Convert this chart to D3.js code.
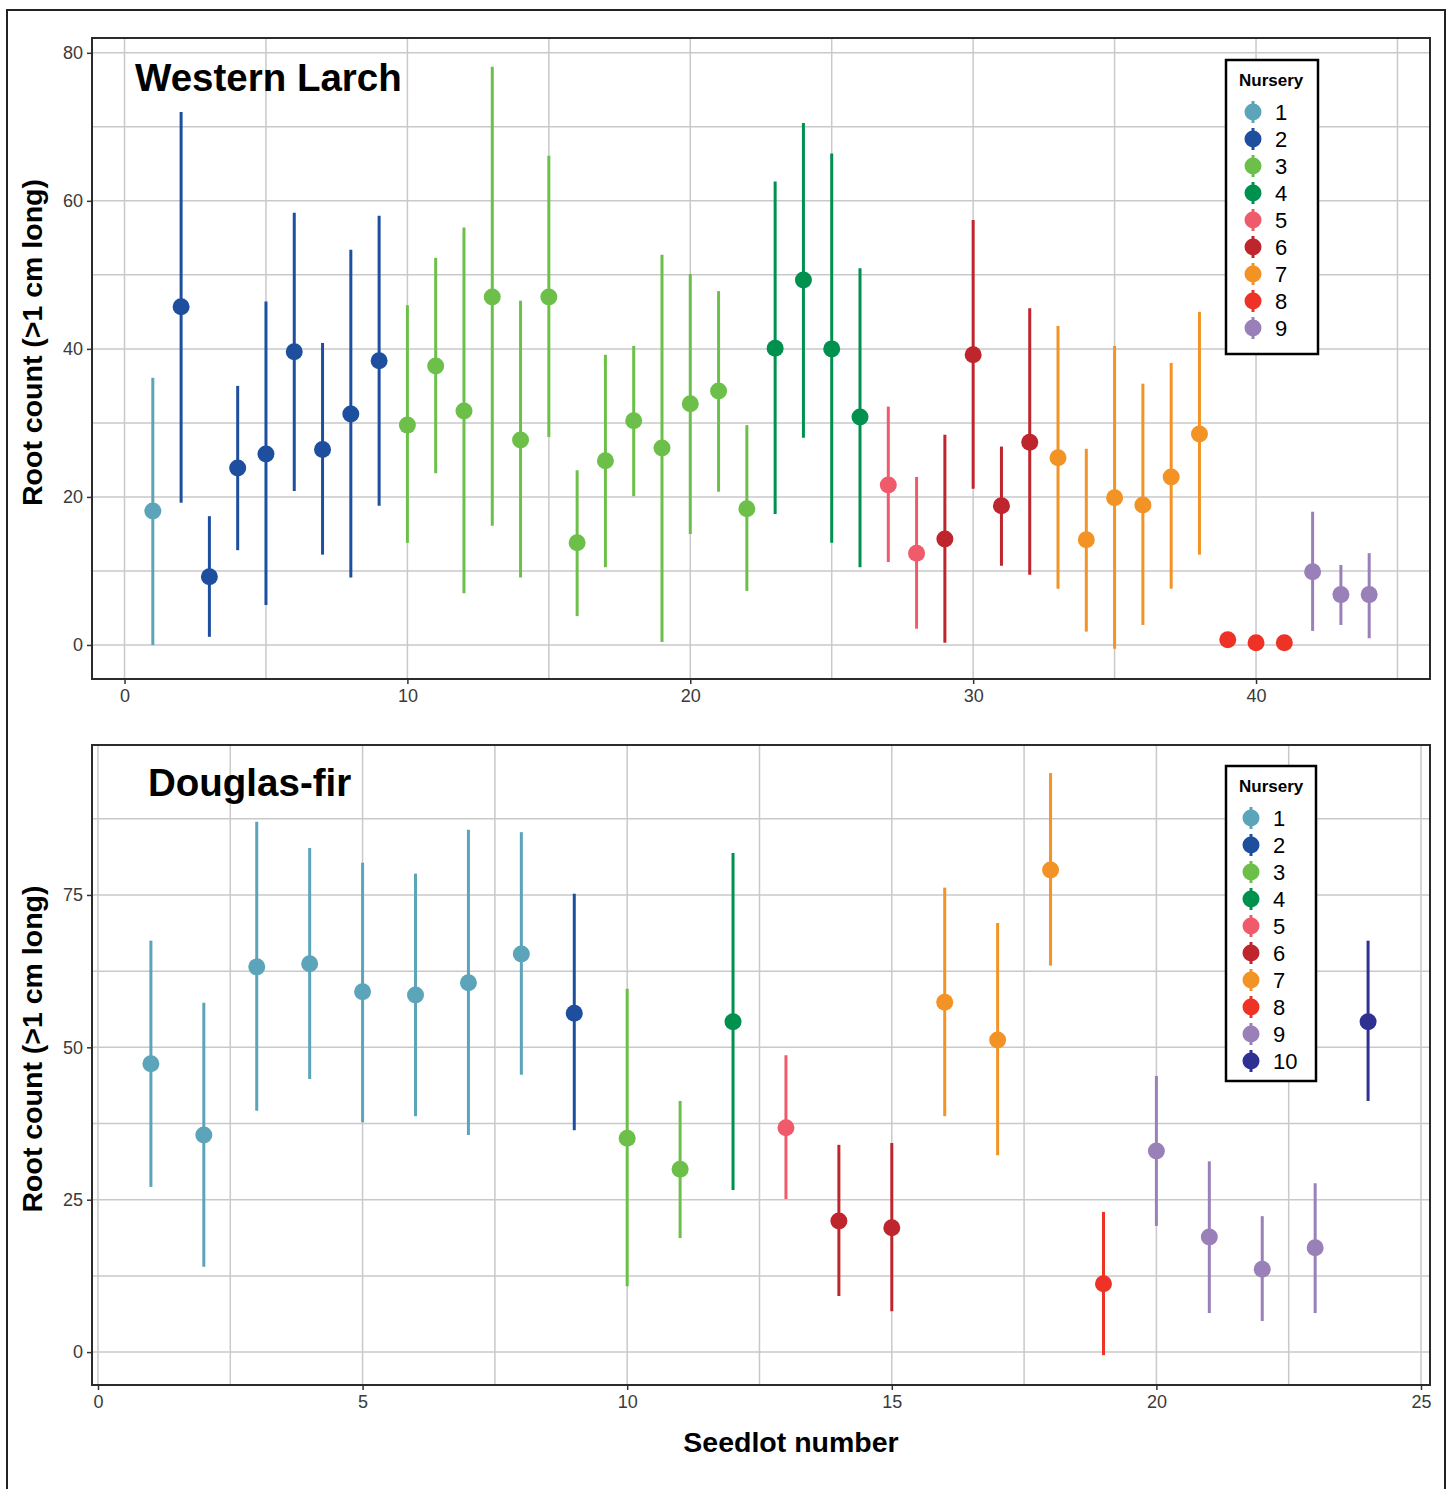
<!DOCTYPE html>
<html>
<head>
<meta charset="utf-8">
<script src="https://cdn.jsdelivr.net/npm/d3@7"></script>
<style>
  body { margin: 0; background: #fff; }
  svg { display: block; font-family: "Liberation Sans", Arial, sans-serif; }
</style>
</head>
<body>
<div id="chart"></div>
<script>
// Nursery colours (1..10)
const nurseryIds = [1, 2, 3, 4, 5, 6, 7, 8, 9, 10];
const nurseryColors = ['#5BA4B9', '#1D4F9E', '#6CC04A', '#00914F', '#EF5B6B',
                       '#BF252D', '#F39325', '#EE3226', '#9A80B8', '#2E3192'];

// Western Larch: seedlot, nursery, mean, lower, upper
const larchSeedlot = d3.range(1, 45);
const larchNursery = [1, 2, 2, 2, 2, 2, 2, 2, 2,
                      3, 3, 3, 3, 3, 3, 3, 3, 3, 3, 3, 3, 3,
                      4, 4, 4, 4, 5, 5, 6, 6, 6, 6,
                      7, 7, 7, 7, 7, 7, 8, 8, 8, 9, 9, 9];
const larchMean = [18.1, 45.7, 9.2, 23.9, 25.8, 39.6, 26.4, 31.2, 38.4,
                   29.7, 37.7, 31.6, 47.0, 27.7, 47.0, 13.8, 24.9, 30.3, 26.6, 32.6, 34.3, 18.4,
                   40.1, 49.3, 40.0, 30.8, 21.6, 12.4, 14.3, 39.2, 18.8, 27.4,
                   25.3, 14.2, 19.9, 18.9, 22.7, 28.5, 0.7, 0.3, 0.3, 9.9, 6.8, 6.8];
const larchLower = [0.0, 19.2, 1.1, 12.8, 5.4, 20.8, 12.2, 9.1, 18.8,
                    13.8, 23.2, 7.0, 16.1, 9.1, 28.1, 3.9, 10.5, 20.1, 0.4, 15.0, 20.7, 7.3,
                    17.7, 28.0, 13.8, 10.5, 11.2, 2.2, 0.3, 21.1, 10.7, 9.5,
                    7.6, 1.8, -0.5, 2.7, 7.6, 12.2, 0.7, 0.3, 0.3, 1.9, 2.7, 0.9];
const larchUpper = [36.1, 72.0, 17.4, 35.0, 46.4, 58.4, 40.8, 53.4, 58.0,
                    45.9, 52.3, 56.4, 78.1, 46.5, 66.1, 23.6, 39.2, 40.4, 52.7, 50.1, 47.8, 29.7,
                    62.6, 70.5, 66.4, 50.9, 32.2, 22.7, 28.4, 57.4, 26.8, 45.5,
                    43.1, 26.5, 40.4, 35.3, 38.1, 45.0, 0.7, 0.3, 0.3, 18.0, 10.8, 12.4];

// Douglas-fir
const firSeedlot = d3.range(1, 25);
const firNursery = [1, 1, 1, 1, 1, 1, 1, 1, 2, 3, 3, 4, 5, 6, 6, 7, 7, 7, 8, 9, 9, 9, 9, 10];
const firMean = [47.3, 35.6, 63.2, 63.7, 59.1, 58.6, 60.6, 65.3, 55.6, 35.1, 30.0, 54.2,
                 36.8, 21.5, 20.4, 57.4, 51.2, 79.1, 11.2, 33.0, 18.9, 13.6, 17.1, 54.2];
const firLower = [27.1, 14.0, 39.6, 44.8, 37.7, 38.7, 35.6, 45.5, 36.4, 10.8, 18.7, 26.6,
                  25.1, 9.2, 6.7, 38.7, 32.3, 63.4, -0.5, 20.7, 6.4, 5.1, 6.4, 41.2];
const firUpper = [67.5, 57.3, 87.0, 82.7, 80.3, 78.5, 85.7, 85.3, 75.2, 59.6, 41.2, 81.9,
                  48.7, 34.0, 34.3, 76.2, 70.4, 95.0, 23.0, 45.3, 31.3, 22.3, 27.7, 67.5];

const larchXTicks = [0, 10, 20, 30, 40];
const larchXGrid = d3.range(0, 50, 5);
const larchYTicks = [0, 20, 40, 60, 80];
const larchYGrid = d3.range(0, 90, 10);
const firXTicks = [0, 5, 10, 15, 20, 25];
const firXGrid = d3.range(0, 27.5, 2.5);
const firYTicks = [0, 25, 50, 75];
const firYGrid = d3.range(0, 100, 12.5);

const W = 1451, H = 1489;
const svg = d3.select('#chart').append('svg').attr('width', W).attr('height', H);

// outer frame
svg.append('rect')
  .attr('x', 7).attr('y', 10).attr('width', 1438).attr('height', H)
  .attr('fill', 'none').attr('stroke', '#222').attr('stroke-width', 2);

const color = d3.scaleOrdinal().domain(nurseryIds).range(nurseryColors);

function buildRows(seedlot, nursery, mean, lower, upper) {
  return seedlot.map((s, i) => ({
    seedlot: s, nursery: nursery[i], mean: mean[i], lower: lower[i], upper: upper[i]
  }));
}

function drawPanel(cfg) {
  const { left, right, top, bottom } = cfg.box;
  const x = d3.scaleLinear().domain(cfg.xDomain).range([left, right]);
  const y = d3.scaleLinear().domain(cfg.yDomain).range([bottom, top]);
  const g = svg.append('g');

  // grid
  g.append('g').selectAll('line').data(cfg.xGrid).enter().append('line')
    .attr('x1', d => x(d)).attr('x2', d => x(d))
    .attr('y1', top).attr('y2', bottom)
    .attr('stroke', '#C9C9C9').attr('stroke-width', 1.5);
  g.append('g').selectAll('line').data(cfg.yGrid).enter().append('line')
    .attr('y1', d => y(d)).attr('y2', d => y(d))
    .attr('x1', left).attr('x2', right)
    .attr('stroke', '#C9C9C9').attr('stroke-width', 1.5);

  // axes
  const xAxis = g.append('g')
    .attr('transform', `translate(0,${bottom})`)
    .call(d3.axisBottom(x).tickValues(cfg.xTicks).tickSize(5).tickPadding(5).tickSizeOuter(0));
  const yAxis = g.append('g')
    .attr('transform', `translate(${left},0)`)
    .call(d3.axisLeft(y).tickValues(cfg.yTicks).tickSize(5).tickPadding(4).tickSizeOuter(0));
  [xAxis, yAxis].forEach(ax => {
    ax.select('.domain').remove();
    ax.selectAll('line').attr('stroke', '#333').attr('stroke-width', 1.5);
    ax.selectAll('text')
      .attr('fill', '#3a3a3a')
      .style('font-size', '18px')
      .style('font-family', '"Liberation Sans", Arial, sans-serif');
  });

  // error bars and points
  const rows = cfg.rows;
  g.append('g').selectAll('line').data(rows.filter(d => d.upper > d.lower)).enter().append('line')
    .attr('x1', d => x(d.seedlot)).attr('x2', d => x(d.seedlot))
    .attr('y1', d => y(d.lower)).attr('y2', d => y(d.upper))
    .attr('stroke', d => color(d.nursery)).attr('stroke-width', 3);
  g.append('g').selectAll('circle').data(rows).enter().append('circle')
    .attr('cx', d => x(d.seedlot)).attr('cy', d => y(d.mean))
    .attr('r', 8.5)
    .attr('fill', d => color(d.nursery));

  // panel border
  g.append('rect')
    .attr('x', left).attr('y', top).attr('width', right - left).attr('height', bottom - top)
    .attr('fill', 'none').attr('stroke', '#2b2b2b').attr('stroke-width', 2);

  // panel title
  g.append('text')
    .attr('x', cfg.title.x).attr('y', cfg.title.y)
    .style('font-size', '38.5px')
    .style('font-weight', 'bold')
    .attr('fill', '#000')
    .text(cfg.title.text);

  // y label (sits a bit above the panel centre, as in the original)
  g.append('text')
    .attr('transform', `translate(42,${(top + bottom) / 2 - 16}) rotate(-90)`)
    .attr('text-anchor', 'middle')
    .style('font-size', '28.5px')
    .style('font-weight', 'bold')
    .text('Root count (>1 cm long)');

  // legend
  const lg = cfg.legend;
  const leg = g.append('g').attr('transform', `translate(${lg.x},${lg.y})`);
  leg.append('rect')
    .attr('width', lg.w).attr('height', lg.h)
    .attr('fill', '#fff').attr('stroke', '#000').attr('stroke-width', 2.5);
  leg.append('text')
    .attr('x', 13).attr('y', 26)
    .style('font-size', '17px').style('font-weight', 'bold')
    .text('Nursery');
  lg.items.forEach((n, i) => {
    const row = leg.append('g').attr('transform', `translate(0,${52 + i * 27})`);
    row.append('line')
      .attr('x1', lg.kx).attr('x2', lg.kx).attr('y1', -11).attr('y2', 11)
      .attr('stroke', color(n)).attr('stroke-width', 3);
    row.append('circle').attr('cx', lg.kx).attr('cy', 0).attr('r', 8.5).attr('fill', color(n));
    row.append('text')
      .attr('x', lg.kx + 22).attr('y', 8)
      .style('font-size', '22px')
      .text(n);
  });
}

drawPanel({
  box: { left: 92, right: 1430, top: 38, bottom: 679 },
  xDomain: [-1.15, 46.15],
  yDomain: [-4.6, 82.0],
  xTicks: larchXTicks, xGrid: larchXGrid,
  yTicks: larchYTicks, yGrid: larchYGrid,
  rows: buildRows(larchSeedlot, larchNursery, larchMean, larchLower, larchUpper),
  title: { text: 'Western Larch', x: 135, y: 91 },
  legend: { x: 1226, y: 60, w: 92, h: 294, kx: 27, items: nurseryIds.slice(0, 9) }
});

drawPanel({
  box: { left: 92, right: 1430, top: 745, bottom: 1385 },
  xDomain: [-0.113, 25.17],
  yDomain: [-5.4, 99.6],
  xTicks: firXTicks, xGrid: firXGrid,
  yTicks: firYTicks, yGrid: firYGrid,
  rows: buildRows(firSeedlot, firNursery, firMean, firLower, firUpper),
  title: { text: 'Douglas-fir', x: 148, y: 796 },
  legend: { x: 1226, y: 766, w: 90, h: 315, kx: 25, items: nurseryIds }
});

// x axis title
svg.append('text')
  .attr('x', 791).attr('y', 1452)
  .attr('text-anchor', 'middle')
  .style('font-size', '28.5px')
  .style('font-weight', 'bold')
  .text('Seedlot number');
</script>
</body>
</html>
